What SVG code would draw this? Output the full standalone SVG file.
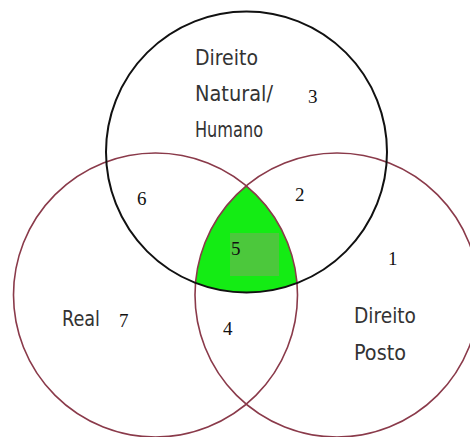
<svg xmlns="http://www.w3.org/2000/svg" width="470" height="437" viewBox="0 0 470 437">
<style>
.lbl{font-family:"Liberation Sans Narrow","DejaVu Sans Condensed","Liberation Sans",sans-serif;font-stretch:condensed;font-size:21px;fill:#333;}
.num{font-family:"Liberation Serif","Times New Roman",serif;font-size:19px;fill:#111;}
.red{fill:none;stroke:#8a3a4a;stroke-width:1.6;}
.blk{fill:none;stroke:#111;stroke-width:2;}
</style>
<defs>
<clipPath id="cl"><circle cx="155.5" cy="295" r="142"/></clipPath>
<clipPath id="cr"><circle cx="337" cy="295" r="142"/></clipPath>
</defs>
<rect width="470" height="437" fill="#fff"/>
<g id="intersection">
<g clip-path="url(#cl)">
<g clip-path="url(#cr)">
<circle cx="246.5" cy="152" r="140.5" fill="#14ec14"/>
</g>
</g>
<rect x="230" y="233" width="49" height="43" fill="#4cc83c"/>
</g>
<g id="real">
<circle class="red" cx="155.5" cy="295" r="142"/>
<text class="lbl" x="62" y="326" textLength="38" lengthAdjust="spacingAndGlyphs">Real</text>
</g>
<g id="direito-posto">
<circle class="red" cx="337" cy="295" r="142"/>
<text class="lbl" x="354" y="323" textLength="62" lengthAdjust="spacingAndGlyphs">Direito</text>
<text class="lbl" x="354" y="360" textLength="52" lengthAdjust="spacingAndGlyphs">Posto</text>
</g>
<g id="direito-natural">
<circle class="blk" cx="246.5" cy="152" r="140.5"/>
<text class="lbl" x="195" y="65" textLength="63" lengthAdjust="spacingAndGlyphs">Direito</text>
<text class="lbl" x="195" y="101" textLength="78" lengthAdjust="spacingAndGlyphs">Natural/</text>
<text class="lbl" x="195" y="137" textLength="68" lengthAdjust="spacingAndGlyphs">Humano</text>
</g>
<g id="numbers">
<text class="num" x="308" y="103">3</text>
<text class="num" x="137" y="205">6</text>
<text class="num" x="295" y="201">2</text>
<text class="num" x="388" y="265">1</text>
<text class="num" x="231" y="255">5</text>
<text class="num" x="223" y="335">4</text>
<text class="num" x="119" y="327">7</text>
</g>
</svg>
